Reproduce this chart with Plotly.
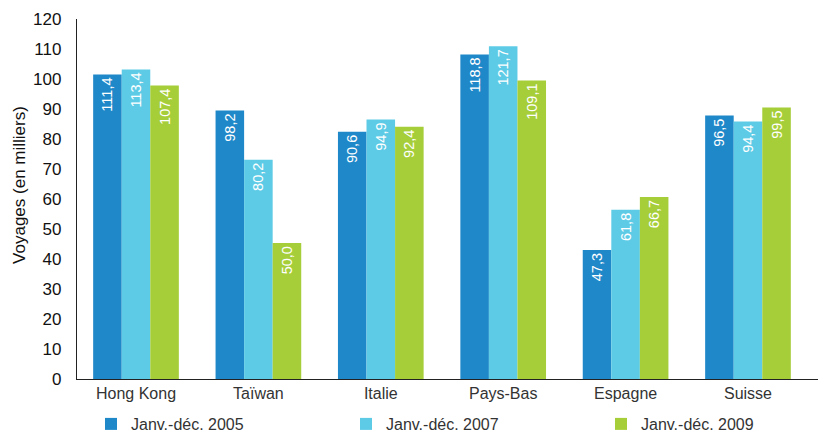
import plotly.graph_objects as go

categories = ["Hong Kong", "Taïwan", "Italie", "Pays-Bas", "Espagne", "Suisse"]
series_names = ["Janv.-déc. 2005", "Janv.-déc. 2007", "Janv.-déc. 2009"]

# bar heights as drawn against the axis
heights_2005 = [101.5, 89.5, 82.4, 108.2, 43.0, 87.8]
heights_2007 = [103.2, 73.1, 86.5, 110.9, 56.4, 85.8]
heights_2009 = [97.8, 45.3, 84.1, 99.5, 60.7, 90.5]

# value labels printed inside the bars
labels_2005 = ["111,4", "98,2", "90,6", "118,8", "47,3", "96,5"]
labels_2007 = ["113,4", "80,2", "94,9", "121,7", "61,8", "94,4"]
labels_2009 = ["107,4", "50,0", "92,4", "109,1", "66,7", "99,5"]

colors = ["#1F88C9", "#5ECBE6", "#A6CE39"]
y_ticks = [0, 10, 20, 30, 40, 50, 60, 70, 80, 90, 100, 110, 120]

FONT = "Liberation Sans, Arial, sans-serif"
legend_ids = ["legend", "legend2", "legend3"]
legend_x_px = [91, 346, 601]

fig = go.Figure()
for name, h, lab, col, lid in zip(series_names,
                                  [heights_2005, heights_2007, heights_2009],
                                  [labels_2005, labels_2007, labels_2009],
                                  colors, legend_ids):
    fig.add_trace(go.Bar(
        x=categories, y=h, name=name, text=lab, legend=lid,
        marker=dict(color=col, line=dict(width=0)),
        textposition="inside", insidetextanchor="end", textangle=-90,
        textfont=dict(color="white", size=14.5, family=FONT),
        constraintext="none", cliponaxis=False, hoverinfo="skip",
    ))

legend_common = dict(orientation="h", xref="container", yref="container",
                     xanchor="left", yanchor="middle", y=1 - 424 / 433,
                     font=dict(size=16, color="#333", family=FONT),
                     itemwidth=30, bgcolor="rgba(0,0,0,0)", borderwidth=0)

layout_legends = {}
for lid, xp in zip(legend_ids, legend_x_px):
    layout_legends[lid] = dict(legend_common, x=xp / 818)

fig.update_layout(
    width=818, height=433,
    margin=dict(l=77, r=0, t=19, b=54, autoexpand=False),
    paper_bgcolor="white", plot_bgcolor="white",
    barmode="group", bargap=0.3, bargroupgap=0,
    font=dict(family=FONT, color="#222"),
    showlegend=True,
    xaxis=dict(range=[-0.482, 5.572], showline=True, linecolor="#222", linewidth=1.3,
               ticks="", showgrid=False, zeroline=False,
               tickfont=dict(size=16, color="#333", family=FONT)),
    yaxis=dict(range=[0, 120], tickvals=y_ticks, showline=True, linecolor="#222",
               linewidth=1.3, ticks="", showgrid=False, zeroline=False,
               ticklabelstandoff=11,
               tickfont=dict(size=17, color="#111", family=FONT)),
    annotations=[dict(text="Voyages (en milliers)", textangle=-90, xref="paper", yref="y",
                      x=0, y=64.7, xshift=-57, xanchor="center", yanchor="middle",
                      showarrow=False, font=dict(size=17, color="#111", family=FONT))],
    **layout_legends,
)

fig.write_html("out.html", config={"displayModeBar": False},
               post_script="document.body.style.margin='0';document.body.style.overflow='hidden';")
